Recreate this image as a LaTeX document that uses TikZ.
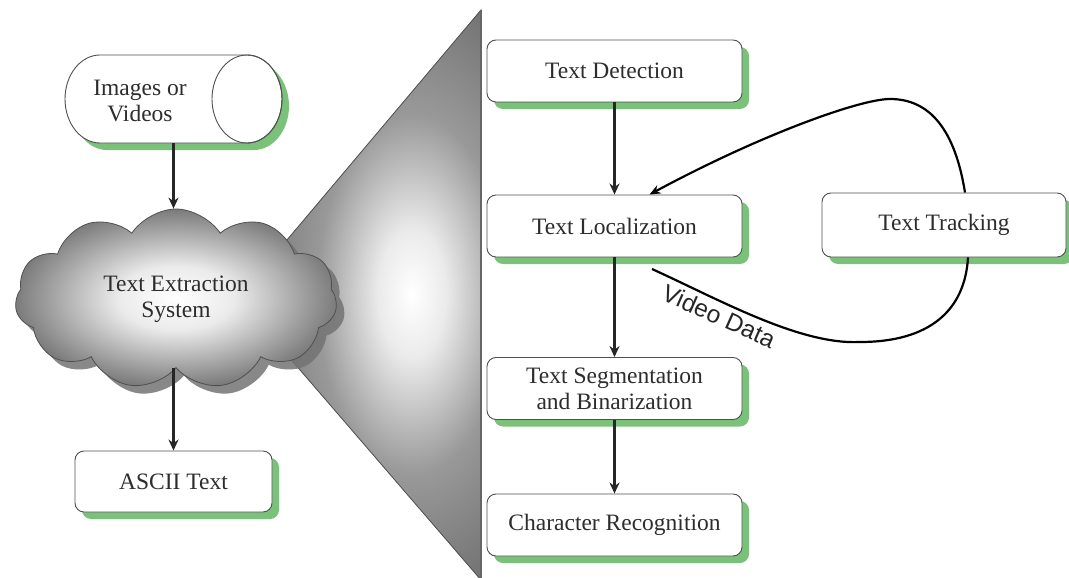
\documentclass[tikz,border=0pt]{standalone}
\usepackage{fontspec}
\setmainfont{Liberation Serif}
\newfontfamily\labelsans{Liberation Sans}
\usetikzlibrary{shapes.symbols,shadows,arrows.meta,calc}
\definecolor{shadegreen}{RGB}{122,194,122}
\definecolor{inktext}{RGB}{45,45,45}
\definecolor{edgegray}{RGB}{80,80,80}
\pgfdeclareradialshading{cloudshade}{\pgfpoint{0bp}{0bp}}{color(0bp)=(white); color(9bp)=(black!8); color(25bp)=(black!52); color(50bp)=(black!52)}
\pgfdeclareradialshading{funnelshade}{\pgfpoint{0bp}{0bp}}{color(0bp)=(white); color(5bp)=(black!8); color(14bp)=(black!40); color(25bp)=(black!56); color(50bp)=(black!56)}
\begin{document}
\begin{tikzpicture}[x=1pt,y=-1pt,
  boxfont/.style={font=\fontsize{23.5}{26}\selectfont},
  stepbox/.style={draw=edgegray, line width=0.9pt, fill=white, rounded corners=9pt,
    minimum width=255pt, minimum height=62pt, align=center, text=inktext, boxfont,
    drop shadow={fill=shadegreen, shadow xshift=7pt, shadow yshift=-7pt, opacity=1}},
  flowarrow/.style={line width=2.6pt, black!85, -{Stealth[length=11pt,width=10pt]}},
  trackline/.style={line width=2.2pt, black}]
\useasboundingbox (0,0) rectangle (1069,578);
\clip (0,0) rectangle (1069,578);

% funnel joining the system to its stages
\coordinate (fa) at (238,298);
\coordinate (ft) at (481,10);
\coordinate (fb) at (481,580);
\fill[black!56] (fa) -- (ft) -- (fb) -- cycle;
\begin{scope}
  \clip (fa) -- (ft) -- (fb) -- cycle;
  \shade[shading=funnelshade] (412,294) ellipse (170pt and 320pt);
\end{scope}
\draw[edgegray, line width=0.8pt] (fa) -- (ft) -- (fb) -- cycle;
\draw[black!60, line width=2pt] (ft) -- (fb);

% source: images or videos (cylinder)
\node[minimum width=217pt, minimum height=88pt, inner sep=0pt] (src) at (173.5,99) {};
\fill[shadegreen] (107,62) -- (254,62) arc[start angle=90, end angle=-90, x radius=35pt, y radius=44pt]
  -- (107,150) arc[start angle=270, end angle=90, x radius=35pt, y radius=44pt] -- cycle;
\draw[edgegray, line width=0.9pt, fill=white] (100,55) -- (247,55) arc[start angle=90, end angle=-90, x radius=35pt, y radius=44pt]
  -- (100,143) arc[start angle=270, end angle=90, x radius=35pt, y radius=44pt] -- cycle;
\draw[edgegray, line width=0.9pt] (247,99) ellipse (35pt and 44pt);
\node[boxfont, align=center, text=inktext] (srctext) at (140,101) {Images or\\Videos};

% central system
\node[cloud, cloud puffs=11, cloud puff arc=115, aspect=1.7, minimum width=322pt, minimum height=180pt,
  draw=edgegray, line width=0.8pt, shading=cloudshade,
  drop shadow={fill=black!55, shadow xshift=8pt, shadow yshift=-8pt, opacity=0.85},
  align=center, text=inktext, boxfont] (tes) at (176,299) {Text Extraction\\System};

\node[stepbox, minimum width=197pt, minimum height=61pt] (ascii) at (173.5,481.5) {ASCII Text};

\draw[flowarrow] (src.south) -- (src.south |- tes.north);
\draw[flowarrow] (tes.south -| ascii.north) -- (ascii.north);

% processing stages
\node[stepbox] (det) at (614.5,71) {Text Detection};
\node[stepbox] (loc) at (614.5,226) {Text Localization};
\node[stepbox] (seg) at (614.5,388.5) {Text Segmentation\\and Binarization};
\node[stepbox] (rec) at (614.5,525) {Character Recognition};
\node[stepbox, minimum width=244pt, minimum height=64pt] (trk) at (944,225) {Text Tracking};

\draw[flowarrow] (det.south) -- (loc.north);
\draw[flowarrow] (loc.south) -- (seg.north);
\draw[flowarrow] (seg.south) -- (rec.north);

% tracking loop
\coordinate (trktop) at ($(trk.north)+(21,0)$);
\coordinate (trkbot) at ($(trk.south)+(24,0)$);
\coordinate (locin) at ($(loc.north)+(35,0)$);
\coordinate (vdstart) at (652,269);
\draw[trackline, -{Stealth[length=11pt,width=9pt]}] (trktop) .. controls (955,130) and (930,99) .. (890,99)
  .. controls (860,99) and (760,135) .. (locin);
\draw[trackline] (vdstart) .. controls (720,300) and (800,345) .. (860,342)
  .. controls (930,342) and (965,310) .. (trkbot);
\node[font=\labelsans\fontsize{24.5}{26}\selectfont, rotate=-24, text=black!85, inner sep=0pt] (vdlabel) at (719,316) {Video Data};
\end{tikzpicture}
\end{document}
